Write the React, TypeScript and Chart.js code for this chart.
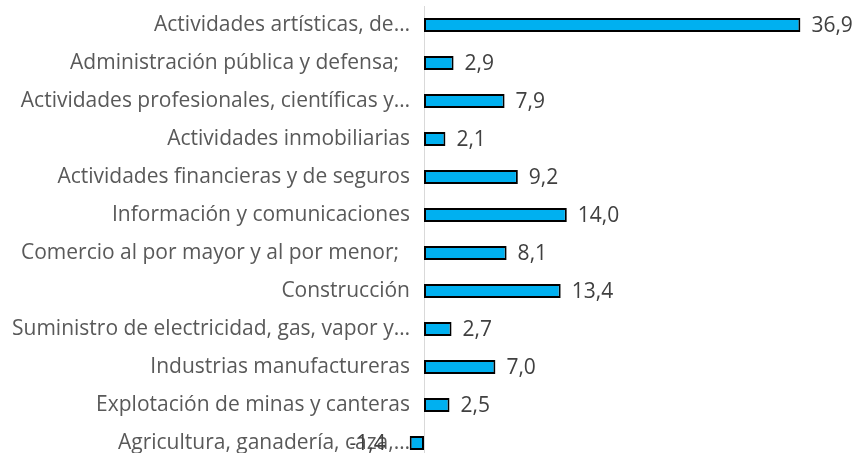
import React, { useEffect, useRef } from "react";
import { Chart, registerables } from "chart.js";

Chart.register(...registerables);

const categories = [
  "Actividades artísticas, de…",
  "Administración pública y defensa;  ",
  "Actividades profesionales, científicas y…",
  "Actividades inmobiliarias",
  "Actividades financieras y de seguros",
  "Información y comunicaciones",
  "Comercio al por mayor y al por menor;  ",
  "Construcción",
  "Suministro de electricidad, gas, vapor y…",
  "Industrias manufactureras",
  "Explotación de minas y canteras",
  "Agricultura, ganadería, caza,…",
];

const values = [36.9, 2.9, 7.9, 2.1, 9.2, 14.0, 8.1, 13.4, 2.7, 7.0, 2.5, -1.4];

const FONT = "'Open Sans', sans-serif";
const SIZE = 21;

const valueLabels = {
  id: "valueLabels",
  afterDatasetsDraw(chart: any) {
    const ctx = chart.ctx;
    const meta = chart.getDatasetMeta(0);
    ctx.save();
    ctx.font = `${SIZE}px ${FONT}`;
    ctx.fillStyle = "#404040";
    ctx.textBaseline = "middle";
    meta.data.forEach((el: any, i: number) => {
      const v = values[i];
      const txt = v.toFixed(1).replace(".", ",");
      if (v >= 0) {
        ctx.textAlign = "left";
        ctx.fillText(txt, el.x + 11, el.y + 1);
      } else {
        ctx.textAlign = "right";
        ctx.fillText(txt, el.x - 24, el.y + 1);
      }
    });
    ctx.restore();
  },
};

export default function App() {
  const ref = useRef<HTMLCanvasElement>(null);
  useEffect(() => {
    if (!ref.current) return;
    const chart = new Chart(ref.current, {
      type: "bar",
      data: {
        labels: categories,
        datasets: [
          {
            data: values,
            backgroundColor: "#00B0F0",
            borderColor: "#000000",
            borderWidth: 2,
            borderSkipped: false,
            categoryPercentage: 1,
            barPercentage: 0.37,
            clip: false as any,
          },
        ],
      },
      options: {
        indexAxis: "y",
        responsive: false,
        animation: false,
        layout: { padding: { top: 6, right: 23, bottom: 0, left: 0 } },
        plugins: { legend: { display: false }, tooltip: { enabled: false } },
        scales: {
          x: {
            display: false,
            min: 0,
            max: 40,
          },
          y: {
            grid: { display: false },
            border: { display: true, color: "#d9d9d9", width: 1 },
            ticks: {
              color: "#595959",
              font: { family: FONT, size: SIZE },
              padding: 6,
              autoSkip: false,
            },
            afterFit: (scale: any) => {
              scale.width = 424;
              scale.paddingTop = 0;
              scale.paddingBottom = 0;
            },
          },
        },
      },
      plugins: [valueLabels],
    });
    return () => chart.destroy();
  }, []);
  return (
    <div
      style={{
        position: "absolute",
        left: 0,
        top: 0,
        width: 855,
        height: 453,
        overflow: "hidden",
        background: "#fff",
      }}
    >
      <canvas ref={ref} width={855} height={462} style={{ display: "block" }} />
    </div>
  );
}
